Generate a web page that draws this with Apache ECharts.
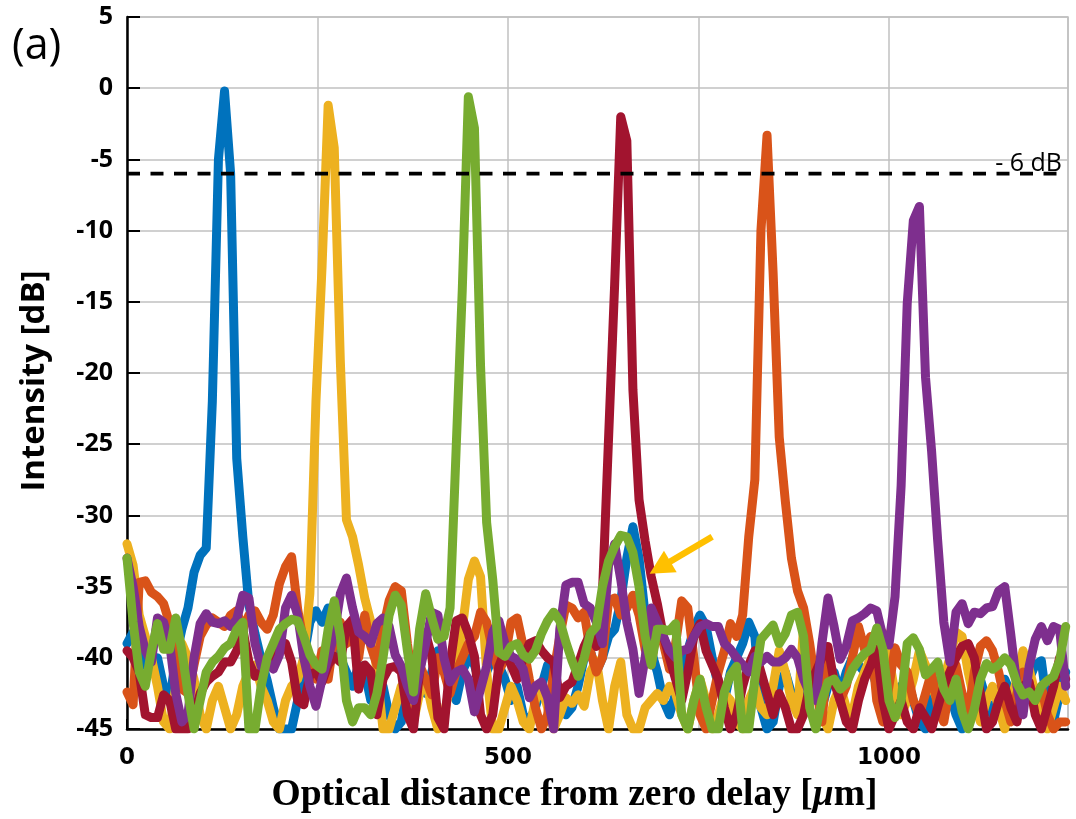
<!DOCTYPE html>
<html><head><meta charset="utf-8">
<script src="https://cdn.jsdelivr.net/npm/echarts@6/dist/echarts.min.js"></script>
<style>html,body{margin:0;padding:0;background:#fff}#c{width:1076px;height:819px}</style>
</head><body><div id="c"></div>
<script>
// sampling step of the traces along x [µm]
const xStep = 8;

const blue = [
-39,-38.2,-39.5,-40.5,-41,-40,-42,-43,-40,-38,
-36.5,-34,-32.8,-32.3,-22,-5,-0.2,-6,-26,-31.5,
-36.3,-38.3,-40.1,-41.6,-43.5,-45,-45,-45,-43,-40,
-37.5,-36.7,-37.5,-36.5,-38.5,-40,-41,-42,-40.5,-41,
-43,-41.5,-42,-44,-45,-44.5,-42,-40.5,-41,-42.5,
-41,-39.5,-40,-42,-43,-41,-40,-40.5,-42,-41,
-40,-40.5,-41.5,-43,-42,-44,-44.5,-43.5,-42,-40.5,
-41.5,-43,-44,-43.5,-42,-40,-39.5,-41,-40,-38.5,
-38,-36,-33,-30.8,-33,-37,-39.5,-41,-43,-44,
-42.5,-41,-39.5,-38,-37,-37.8,-40,-42,-43,-41,
-40,-39,-37.5,-38.5,-43.5,-45,-44.5,-42,-41,-42.5,
-43,-41.5,-40.5,-42,-43.5,-42,-41,-42.5,-41,-40,
-40.5,-41,-40.5,-42,-43,-44.5,-43,-42,-41.5,-43,
-44.5,-45,-43,-42,-41,-42.5,-44,-45,-43,-42,
-41.5,-43,-44,-42.5,-41.5,-42.5,-44,-43,-41.5,-40.5,
-40.2,-43.5,-44.5,-42.5,-41];

const yellow = [
-32,-33.5,-37,-38.5,-40,-42,-44.5,-45,-42,-39,
-40,-41.5,-44,-45,-43,-42,-43.5,-45,-44,-42,
-41,-40.5,-42,-43,-44.5,-45,-43,-42,-41.5,-40,
-35.5,-22,-12.5,-1.2,-4.2,-19.2,-30.3,-31.5,-33.5,-35.8,
-37.5,-41,-45,-45,-43.5,-42,-43,-44.5,-42.5,-41.5,
-43.5,-45,-44,-42,-40.5,-38,-34.5,-33.2,-34.3,-41,
-45,-45,-43.5,-42,-43,-44.5,-45,-43,-42,-43.5,
-45,-44,-42.8,-43.2,-42.6,-43.4,-41,-40.2,-43,-45,
-42,-40.3,-44,-45,-45,-43.5,-43,-42.5,-43,-42,
-42.5,-44,-45,-43,-41.5,-43,-45,-44,-42.5,-43,
-44.5,-45,-43,-42,-43.5,-44,-42,-39.5,-41,-43,
-44,-37.8,-39.5,-42,-44,-45,-43,-42,-43.5,-44,
-42,-41,-40,-39.5,-38.2,-40,-42.5,-44,-43,-41.5,
-39.5,-40.5,-42,-43,-41.5,-40,-38.2,-38.5,-41,-43,
-44.5,-43,-42,-43.5,-45,-43,-41.5,-39.5,-40.8,-42.5,
-44,-45,-43.5,-42,-43];

const orange = [
-42.4,-43.3,-34.7,-34.6,-35.4,-35.7,-36.2,-37.6,-40.5,-42.2,
-42.5,-40.5,-38.5,-37.7,-37.2,-37.5,-37.8,-37,-36.7,-38,
-37,-36.7,-37.5,-38,-37,-34.8,-33.6,-32.9,-36.6,-39,
-40.5,-41.5,-39.5,-41.5,-38.5,-37.5,-39,-38.5,-40,-37,
-39.2,-40.5,-38,-36,-35,-35.3,-39,-42,-40.5,-41.5,
-42.6,-40,-41,-42.5,-41,-40,-39,-38.5,-36.8,-37.5,
-39.5,-41,-40,-37.5,-37.2,-39.2,-41.5,-43.5,-45,-44,
-41,-38.5,-36.3,-36.5,-37.2,-36.8,-39.5,-41,-40,-36,
-35.8,-37,-36.5,-35.6,-37,-39.4,-40.5,-37.6,-39,-40.8,
-39,-36,-36.5,-40,-44,-45,-43,-41,-39.5,-37.6,
-38.5,-37,-31.5,-27.5,-10,-3.3,-13,-24.5,-29,-33,
-35.3,-36.5,-39,-42,-44.5,-40,-41.5,-43,-42,-40,
-37.8,-39.4,-38.5,-43,-44.5,-42,-39.3,-40.5,-41,-43,
-44,-42.5,-41,-43.5,-44.5,-42,-40.5,-42.5,-44,-41,
-39.2,-38.8,-39.5,-41,-43,-44.5,-42.5,-41,-41.8,-43,
-42,-44,-45,-44.5,-44.5];

const darkRed = [
-39.5,-40,-41,-44,-44.2,-44.2,-42.6,-43,-45,-45,
-45,-44,-42.5,-41.7,-41.3,-41,-40.3,-40.3,-39.5,-38,
-40.3,-41.3,-41,-40.5,-40,-39.2,-39,-40.3,-43,-43.3,
-41.2,-41,-41.7,-40.5,-39.9,-40.3,-37.8,-37.3,-42.2,-40.5,
-41,-44,-41.5,-40.7,-40.6,-41,-44,-45,-41,-38.3,
-39.9,-44.2,-45,-40.5,-37.4,-37.2,-38.3,-39.9,-44,-45,
-44,-40.6,-39.5,-40.5,-41.5,-40,-39,-38.8,-39.5,-40,
-40.3,-42.8,-42,-41.7,-40.5,-39.2,-38.3,-39.2,-35.5,-24.6,
-13.8,-2,-3.7,-21.2,-28.9,-31.8,-34.3,-36.2,-38.5,-40,
-41.5,-43,-41,-38.5,-37.6,-39.5,-40.5,-41.5,-43.5,-45,
-44,-42,-40.5,-39.5,-41,-42.5,-44,-42.5,-43.5,-45,
-45,-44,-42,-41,-40,-39.2,-41.7,-43,-44.5,-45,
-43,-41.5,-40.5,-39.4,-43,-45,-44,-43,-44.5,-45,
-43.5,-44.2,-45,-43.5,-42,-41,-40,-39.2,-39,-40,
-42.5,-45,-44.5,-43,-42,-43.5,-44.5,-42,-41.7,-44,
-45,-43.5,-42,-40,-41.5];

const purple = [
-33,-35,-37.8,-39.5,-40.3,-37.2,-37.5,-39,-42.5,-44.5,
-44,-40,-37.6,-36.9,-37.5,-37.6,-37.4,-37.8,-37.3,-35.6,
-35.8,-39,-40.6,-40.3,-40.8,-39.8,-36.5,-35.6,-37,-40,
-42,-43.4,-41.5,-40,-38.3,-35.5,-34.4,-36.5,-38.2,-38.5,
-39,-37.6,-37.2,-37.8,-39.8,-40.6,-42,-43,-41,-39,
-36.8,-37,-40,-41.7,-41,-40.8,-41.5,-43.8,-42.2,-40.6,
-38.2,-37.4,-39,-39.9,-40.1,-40.8,-42.8,-42,-41.7,-42.8,
-45,-38,-34.9,-34.7,-34.7,-36.2,-36.5,-37.5,-39,-33.5,
-32,-34.5,-37.5,-39.4,-42.5,-40,-36.5,-37.5,-38.5,-39.5,
-40,-39.5,-39.4,-38.5,-37.8,-37.6,-37.8,-37.8,-39,-39.4,
-40,-40.5,-41,-39.9,-40.3,-39.9,-40.3,-40.3,-40,-39.4,
-40,-41.5,-42.5,-43,-39,-35.8,-37.8,-40.1,-39.2,-37.4,
-37.2,-36.9,-36.5,-36.7,-38.5,-39.1,-35.7,-27.9,-15.1,-9.3,
-8.3,-20.3,-25.5,-31.8,-37.5,-40.3,-36.8,-36.2,-37.6,-36.8,
-36.9,-36.5,-36.4,-35.3,-35,-38.4,-42,-44,-40.6,-38.7,
-37.8,-38.8,-37.8,-38,-42];

const green = [
-33,-37.5,-41,-42,-39.5,-37.6,-39.4,-39.4,-37.2,-39.5,
-42.5,-45,-43,-41,-40.3,-39.9,-39.3,-39,-38,-37.5,
-45,-45,-42,-40,-39,-38,-37.6,-37.3,-37.4,-38.5,
-39.8,-40.5,-40.8,-38,-36,-38.5,-43,-44.5,-43.5,-43.5,
-44,-42.5,-40,-37,-35.6,-36.3,-39.5,-42.4,-38,-35.5,
-37.2,-38.7,-38.5,-36.5,-25.3,-14.2,-0.6,-2.8,-19.5,-30.5,
-34.5,-39.6,-39.9,-39.2,-39,-39.8,-40.1,-39.5,-38.3,-37.4,
-36.8,-37.4,-38.9,-40.2,-41.3,-40,-38.3,-37.8,-35,-33.2,
-32.2,-31.4,-31.5,-32.6,-35,-38.5,-40.5,-38,-38,-38.1,
-37.6,-44,-45,-43,-41.5,-43.5,-45,-45,-42.4,-41.2,
-40.6,-45,-45,-41.5,-38.7,-38.2,-37.7,-39,-38.3,-37,
-36.8,-38.5,-43.5,-45,-43,-41.7,-41.5,-42.2,-41.8,-40.8,
-40.2,-39.7,-39.4,-37.9,-39.4,-43,-44.2,-43,-39,-38.6,
-39.4,-41.2,-40.8,-40.3,-42.2,-43,-41.5,-43.8,-45,-43.6,
-41.5,-40.4,-40.8,-40.5,-40,-40.5,-41.8,-42.6,-42.4,-43,
-42,-41.6,-41.3,-40.2,-37.8];

const xLabelTicks = [0, 500, 1000];
const thresholdDb = -6;
const thresholdX = [0, 1227];
const arrowTail = [768, -31.5];
const arrowTip = [686, -34.1];

const xs = blue.map((_, i) => i * xStep);
const pair = ys => ys.map((y, i) => [xs[i], y]);

const GRIDC = '#c0c0c0';
function trace(name, ys, color) {
  return {
    type: 'line', name, data: pair(ys), showSymbol: false, symbol: 'none',
    lineStyle: { width: 9, color, cap: 'round', join: 'round' },
    itemStyle: { color }, animation: false, silent: true, xAxisIndex: 1
  };
}

const chart = echarts.init(document.getElementById('c'), null, { renderer: 'canvas' });
chart.setOption({
  animation: false,
  backgroundColor: '#fff',
  grid: { left: 127, right: 8, top: 17, bottom: 86, show: true, borderColor: GRIDC, borderWidth: 1.5 },
  xAxis: [
    { type: 'value', min: 0, max: 1235, interval: 250, position: 'bottom',
      axisLine: { show: false }, axisTick: { show: false }, axisLabel: { show: false },
      splitLine: { show: true, lineStyle: { color: GRIDC, width: 1.5 } } },
    { type: 'value', min: 0, max: 1235, interval: 500, position: 'bottom',
      axisLine: { show: true, onZero: false, lineStyle: { color: '#000', width: 2.5 } },
      axisTick: { show: true, inside: true, length: 10, customValues: xLabelTicks, lineStyle: { color: '#000', width: 2 } },
      axisLabel: { customValues: xLabelTicks, formatter: v => (xLabelTicks.indexOf(v) >= 0 ? String(v) : ''),
        fontFamily: 'DejaVu Sans', fontWeight: 'bold', fontSize: 23, color: '#000', margin: 18 },
      splitLine: { show: false },
      name: 'Optical distance from zero delay [{i|μ}m]', nameLocation: 'middle', nameGap: 47,
      nameTextStyle: { fontFamily: 'Liberation Serif', fontWeight: 'bold', fontSize: 37.5, color: '#000',
        padding: [0, 46, 0, 0],
        rich: { i: { fontFamily: 'Liberation Serif', fontWeight: 'bold', fontStyle: 'italic', fontSize: 37.5, color: '#000' } } } }
  ],
  yAxis: {
    type: 'value', min: -45, max: 5, interval: 5,
    axisLine: { show: true, onZero: false, lineStyle: { color: '#000', width: 2.5 } },
    axisTick: { show: true, inside: true, length: 13, lineStyle: { color: '#000', width: 2 } },
    axisLabel: { fontFamily: 'Open Sans', fontWeight: 'bold', fontSize: 25, color: '#000', margin: 14 },
    splitLine: { show: true, lineStyle: { color: GRIDC, width: 1.5 } },
    name: 'Intensity [dB]', nameLocation: 'middle', nameGap: 76, nameRotate: 90,
    nameTextStyle: { fontFamily: 'Open Sans', fontWeight: 'bold', fontSize: 33, color: '#000', padding: [0, 16, 0, 0] }
  },
  series: [
    trace('blue', blue, '#0072BD'),
    trace('yellow', yellow, '#EDB120'),
    trace('orange', orange, '#D95319'),
    trace('darkRed', darkRed, '#A2142F'),
    trace('purple', purple, '#7E2F8E'),
    trace('green', green, '#77AC30'),
    { type: 'line', name: 'threshold', xAxisIndex: 1, showSymbol: false, symbol: 'none', silent: true, z: 5,
      data: thresholdX.map(x => [x, thresholdDb]),
      lineStyle: { color: '#000', width: 3.6, type: [13, 10.5] } }
  ]
});

const P = d => chart.convertToPixel({ xAxisIndex: 1, yAxisIndex: 0 }, d);
const lblPt = P([thresholdX[1], thresholdDb]);
const T = P(arrowTip), S = P(arrowTail);
const dx = T[0] - S[0], dy = T[1] - S[1], L = Math.hypot(dx, dy);
const ux = dx / L, uy = dy / L, nx = -uy, ny = ux;
const headLen = 24, headHalf = 12.5;
const B = [T[0] - ux * headLen, T[1] - uy * headLen];
chart.setOption({
  graphic: [
    { type: 'text', left: 12, top: 25, silent: true,
      style: { text: '(a)', font: '43px "Open Sans"', fill: '#000' } },
    { type: 'text', x: lblPt[0], y: lblPt[1] + 3, silent: true, z: 10,
      style: { text: '- 6 dB', font: '25px "Open Sans"', fill: '#000', align: 'right', verticalAlign: 'bottom' } },
    { type: 'line', silent: true, z: 10,
      shape: { x1: S[0], y1: S[1], x2: B[0] + ux * 2, y2: B[1] + uy * 2 },
      style: { stroke: '#FFC000', lineWidth: 6.5 } },
    { type: 'polygon', silent: true, z: 10,
      shape: { points: [T, [B[0] + nx * headHalf, B[1] + ny * headHalf], [B[0] - nx * headHalf, B[1] - ny * headHalf]] },
      style: { fill: '#FFC000' } }
  ]
});
</script></body></html>
